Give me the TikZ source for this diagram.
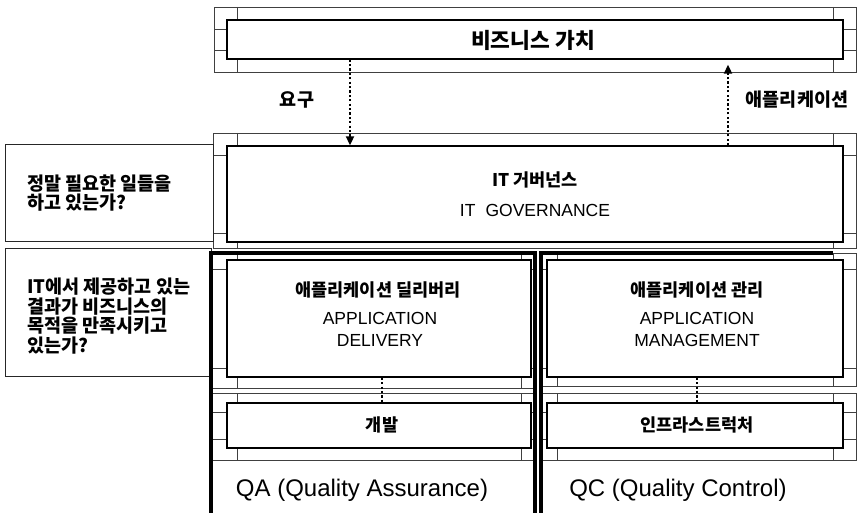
\documentclass[tikz,border=0pt]{standalone}
\usepackage{fontspec}
\setmainfont{Liberation Sans}
\newfontfamily\kr{Noto Sans CJK KR}
\usetikzlibrary{arrows.meta,fit}
\newcommand\frblk[8]{%
 \draw[frm] (#1,#2) rectangle (#3,#4);
 \draw[frm] ({#5+10},#2) -- ({#5+10},#6) ({#5+10},#8) -- ({#5+10},#4)
   ({#7-10},#2) -- ({#7-10},#6) ({#7-10},#8) -- ({#7-10},#4)
   (#1,{#6+9}) -- (#5,{#6+9}) (#1,{#8-9}) -- (#5,{#8-9})
   (#7,{#6+9}) -- (#3,{#6+9}) (#7,{#8-9}) -- (#3,{#8-9});
}
\begin{document}
\begin{tikzpicture}[x=1pt,y=-1pt,
  frm/.style={draw=black!75, line width=0.8pt},
  mainbox/.style={draw=black, line width=1.4pt, fill=white, inner sep=0pt},
  qbox/.style={draw=black!85, line width=1pt, inner sep=0pt},
  thk/.style={line width=3.6pt},
  conn/.style={line width=2pt, dash pattern=on 2.2pt off 2.2pt},
  tip/.style={-{Triangle[width=8pt,length=9pt]}},
  krt/.style={font=\kr\bfseries\fontsize{18.5}{19.5}\selectfont, inner sep=0pt},
  ent/.style={font=\fontsize{17.5}{22}\selectfont, inner sep=0pt, align=center},
  lab/.style={font=\fontsize{24}{28}\selectfont, inner sep=0pt}]
\useasboundingbox (0,0) rectangle (858,513);
\fill[white] (0,0) rectangle (858,513);

% frames
\frblk{214}{7}{856}{72}{227}{20}{843}{59}
\frblk{213}{133}{856}{248}{227}{146}{843}{242}
\frblk{211}{253}{535}{388}{227}{260}{531}{377}
\frblk{211}{393}{535}{460}{227}{403}{531}{448}
\frblk{541}{253}{856}{386}{547}{260}{843}{377}
\frblk{541}{393}{856}{460}{547}{403}{843}{448}

% main boxes
\node[mainbox, fit={(227,20) (843,59)}] (biz) {};
\node[mainbox, fit={(227,146) (843,242)}] (itg) {};
\node[mainbox, fit={(227,260) (531,377)}] (adl) {};
\node[mainbox, fit={(227,403) (531,448)}] (dev) {};
\node[mainbox, fit={(547,260) (843,377)}] (amg) {};
\node[mainbox, fit={(547,403) (843,448)}] (inf) {};

% question boxes
\node[qbox, fit={(5,145) (213,241)}] (q1) {};
\node[qbox, fit={(5,248) (211,376)}] (q2) {};

% thick QA / QC brackets
\draw[thk] (211,513) -- (211,253) -- (535,253) -- (535,513);
\draw[thk] (541,513) -- (541,253) -- (833,253);

% texts
\node[krt, font=\kr\bfseries\fontsize{21.5}{22}\selectfont] (tbiz) at (533,40) {비즈니스 가치};
\node[krt] (tyo) at (297,100) {요구};
\node[krt] (tapp) at (797,100) {애플리케이션};
\node[krt, font=\kr\bfseries\fontsize{17.5}{19.5}\selectfont] (titk) at (535,180) {IT 거버넌스};
\node[ent] (tite) at (535,210) {IT\hspace{10pt}GOVERNANCE};
\node[krt, font=\kr\bfseries\fontsize{17.5}{19.5}\selectfont] (tadk) at (378,290) {애플리케이션 딜리버리};
\node[ent] (tade) at (380,329) {APPLICATION\\DELIVERY};
\node[krt, font=\kr\bfseries\fontsize{17.5}{19.5}\selectfont] (tdev) at (382,425) {개발};
\node[krt, font=\kr\bfseries\fontsize{17.5}{19.5}\selectfont] (tamk) at (697,290) {애플리케이션 관리};
\node[ent] (tame) at (697,329) {APPLICATION\\MANAGEMENT};
\node[krt, font=\kr\bfseries\fontsize{17.5}{19.5}\selectfont] (tinf) at (697,425) {인프라스트럭처};
\node[lab] (tqa) at (362,490) {QA (Quality Assurance)};
\node[lab] (tqc) at (678,490) {QC (Quality Control)};
\node[krt, anchor=west, align=left] (tq1) at (27,193) {정말 필요한 일들을\\하고 있는가?};
\node[krt, anchor=west, align=left] (tq2) at (27,316) {IT에서 제공하고 있는\\결과가 비즈니스의\\목적을 만족시키고\\있는가?};

% connectors
\coordinate (ax1) at (350,0);
\coordinate (ax2) at (728,0);
\coordinate (ax3) at (382,0);
\coordinate (ax4) at (697,0);
\draw[conn, tip] (biz.south -| ax1) -- (itg.north -| ax1);
\draw[conn, tip] (itg.north -| ax2) -- ([yshift=-5pt]biz.south -| ax2);
\draw[conn] (adl.south -| ax3) -- (dev.north -| ax3);
\draw[conn] (amg.south -| ax4) -- (inf.north -| ax4);
\end{tikzpicture}
\end{document}
